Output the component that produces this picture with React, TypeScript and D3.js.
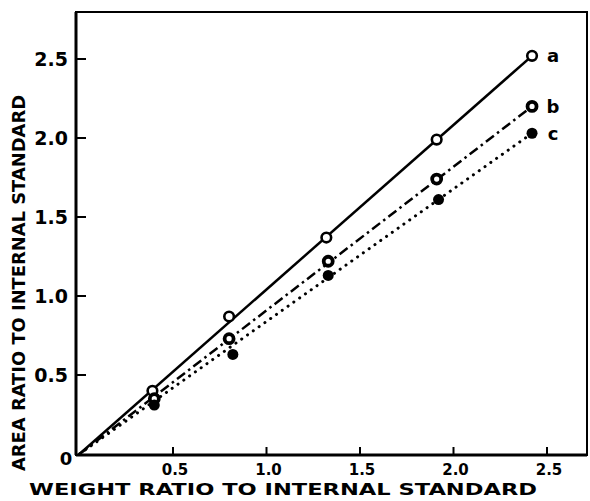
import React from 'react';
import * as d3 from 'd3';

// values
const xTicks = [0.5, 1.0, 1.5, 2.0, 2.5];
const yTicks = [0.5, 1.0, 1.5, 2.0, 2.5];
const xTickLabels = ['0.5', '1.0', '1.5', '2.0', '2.5'];
const yTickLabels = ['0.5', '1.0', '1.5', '2.0', '2.5'];

const seriesNames = ['a', 'b', 'c'];
const weightA = [0.39, 0.8, 1.32, 1.91, 2.42];
const areaA = [0.4, 0.87, 1.37, 1.99, 2.52];
const weightB = [0.4, 0.8, 1.33, 1.91, 2.42];
const areaB = [0.35, 0.73, 1.22, 1.74, 2.2];
const weightC = [0.4, 0.82, 1.33, 1.92, 2.42];
const areaC = [0.31, 0.63, 1.13, 1.61, 2.03];

const W = 590;
const H = 501;
const frame = { left: 76, right: 587, top: 12, bottom: 455 };
const font = '"DejaVu Sans", sans-serif';

const App = () => {
  const x = d3.scaleLinear().domain([0, 2.5]).range([79.5, 547]);
  const y = d3.scaleLinear().domain([0, 2.5]).range([454, 59]);

  const series = [
    { name: seriesNames[0], xs: weightA, ys: areaA, dash: null, marker: 'open' },
    { name: seriesNames[1], xs: weightB, ys: areaB, dash: '10,4,2.5,4', marker: 'ring' },
    { name: seriesNames[2], xs: weightC, ys: areaC, dash: '0.1,7', marker: 'filled' },
  ];

  const line = d3
    .line<[number, number]>()
    .x((d) => x(d[0]))
    .y((d) => y(d[1]));

  return (
    <div style={{ position: 'absolute', left: 0, top: 0 }}>
      <svg width={W} height={H} style={{ display: 'block', background: '#fff' }}>
        {/* frame */}
        <rect
          x={frame.left}
          y={frame.top}
          width={frame.right - frame.left}
          height={frame.bottom - frame.top}
          fill="none"
          stroke="#000"
          strokeWidth={2}
        />
        <line x1={frame.left} x2={frame.left} y1={frame.top} y2={frame.bottom} stroke="#000" strokeWidth={3} />
        <line x1={frame.left} x2={frame.right} y1={frame.bottom} y2={frame.bottom} stroke="#000" strokeWidth={3} />

        {/* y ticks */}
        {yTicks.map((t, i) => (
          <g key={'y' + t}>
            <line x1={frame.left} x2={frame.left + 10} y1={y(t)} y2={y(t)} stroke="#000" strokeWidth={2} />
            <text
              x={68}
              y={y(t)}
              dy="0.36em"
              textAnchor="end"
              fontFamily={font}
              fontWeight="bold"
              fontSize={19}
            >
              {yTickLabels[i]}
            </text>
          </g>
        ))}
        <text x={66} y={459} dy="0.36em" textAnchor="middle" fontFamily={font} fontWeight="bold" fontSize={18}>
          0
        </text>

        {/* x ticks */}
        {xTicks.map((t, i) => (
          <g key={'x' + t}>
            <line x1={x(t)} x2={x(t)} y1={frame.bottom} y2={frame.bottom - 8} stroke="#000" strokeWidth={2} />
            <text
              x={x(t) + 2}
              y={470}
              dy="0.36em"
              textAnchor="middle"
              fontFamily={font}
              fontWeight="bold"
              fontSize={15}
            >
              {xTickLabels[i]}
            </text>
          </g>
        ))}

        {/* axis titles */}
        <text
          x={283}
          y={489}
          dy="0.36em"
          textAnchor="middle"
          fontFamily={font}
          fontWeight="bold"
          fontSize={16}
          textLength={508}
          lengthAdjust="spacingAndGlyphs"
        >
          WEIGHT  RATIO  TO INTERNAL  STANDARD
        </text>
        <text
          transform="translate(19,283) rotate(-90)"
          textAnchor="middle"
          dy="0.36em"
          fontFamily={font}
          fontWeight="bold"
          fontSize={18}
          textLength={376}
          lengthAdjust="spacingAndGlyphs"
        >
          AREA RATIO  TO INTERNAL  STANDARD
        </text>

        {/* fitted lines from the origin to the last point */}
        {series.map((s) => {
          const n = s.xs.length - 1;
          return (
            <path
              key={'l' + s.name}
              d={line([[0, 0], [s.xs[n], s.ys[n]]]) || ''}
              fill="none"
              stroke="#000"
              strokeWidth={s.marker === 'filled' ? 3 : 2.5}
              strokeDasharray={s.dash || undefined}
              strokeLinecap={s.marker === 'filled' ? 'round' : 'butt'}
            />
          );
        })}

        {/* markers */}
        {series.map((s) =>
          s.xs.map((v, i) => (
            <circle
              key={s.name + i}
              cx={x(v)}
              cy={y(s.ys[i])}
              r={s.marker === 'filled' ? 5.5 : s.marker === 'ring' ? 4.5 : 4.8}
              fill={s.marker === 'filled' ? '#000' : '#fff'}
              stroke="#000"
              strokeWidth={s.marker === 'ring' ? 3.8 : s.marker === 'open' ? 2.6 : 0}
            />
          ))
        )}

        {/* series labels */}
        {series.map((s) => {
          const n = s.xs.length - 1;
          return (
            <text
              key={'t' + s.name}
              x={553}
              y={y(s.ys[n])}
              dy="0.36em"
              textAnchor="middle"
              fontFamily={font}
              fontWeight="bold"
              fontSize={18}
            >
              {s.name}
            </text>
          );
        })}
      </svg>
    </div>
  );
};

export default App;
